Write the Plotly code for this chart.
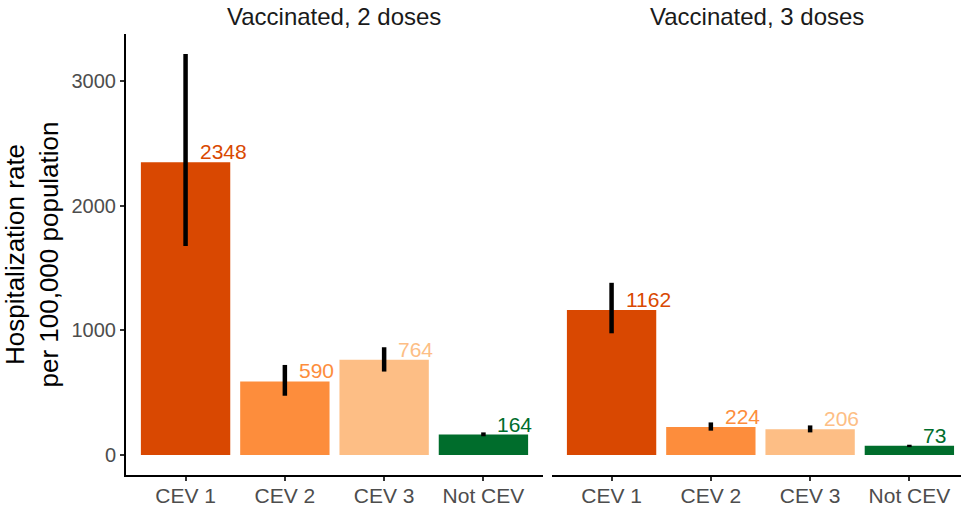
import plotly.graph_objects as go

categories = ["CEV 1", "CEV 2", "CEV 3", "Not CEV"]
colors = ["#D94801", "#FD8D3C", "#FDBE85", "#006D2C"]
panel_titles = ["Vaccinated, 2 doses", "Vaccinated, 3 doses"]

rate_2doses = [2348, 590, 764, 164]
upper_2doses = [3216, 722, 864, 181]
lower_2doses = [1677, 475, 669, 150]

rate_3doses = [1162, 224, 206, 73]
upper_3doses = [1381, 261, 237, 82]
lower_3doses = [976, 195, 181, 63]

y_ticks = [0, 1000, 2000, 3000]

FONT = "Liberation Sans, Arial, sans-serif"

fig = go.Figure()

panels = [
    (rate_2doses, upper_2doses, lower_2doses, "x", "y"),
    (rate_3doses, upper_3doses, lower_3doses, "x2", "y2"),
]

for vals, up, lo, xa, ya in panels:
    fig.add_trace(go.Bar(
        x=categories, y=vals, xaxis=xa, yaxis=ya,
        width=0.9,
        marker=dict(color=colors, line=dict(width=0)),
        error_y=dict(
            type="data", symmetric=False,
            array=[u - v for u, v in zip(up, vals)],
            arrayminus=[v - l for v, l in zip(vals, lo)],
            color="black", thickness=4.5, width=0,
        ),
        showlegend=False, hoverinfo="skip",
    ))
    for c, v, col in zip(categories, vals, colors):
        fig.add_annotation(
            x=c, y=v, xref=xa, yref=ya, text=str(v),
            xanchor="left", yanchor="bottom", xshift=12, yshift=-3,
            showarrow=False, font=dict(family=FONT, size=21, color=col),
        )

ymax = max(upper_2doses + upper_3doses)
yrange = [-0.05 * ymax, 1.05 * ymax]

axis_common = dict(
    showgrid=False, zeroline=False, showline=True, linecolor="black",
    linewidth=2, ticks="outside", ticklen=4, tickcolor="#333333", tickwidth=1.5,
    tickfont=dict(family=FONT, size=21, color="#4D4D4D"),
    type="category", categoryorder="array", categoryarray=categories,
    automargin=False, ticklabelstandoff=-3,
)

fig.update_layout(
    width=961, height=506,
    margin=dict(l=126, r=0, t=34, b=31),
    paper_bgcolor="white", plot_bgcolor="white",
    bargap=0.1,
    font=dict(family=FONT),
    xaxis=dict(domain=[0, 0.4994], range=[-0.6, 3.6], anchor="y", **axis_common),
    xaxis2=dict(domain=[0.5102, 1], range=[-0.6, 3.52], anchor="y2", **axis_common),
    yaxis=dict(
        range=yrange, tickvals=y_ticks, showgrid=False, zeroline=False,
        showline=True, linecolor="black", linewidth=2, ticks="outside",
        ticklen=4, tickcolor="#333333", tickwidth=1.5,
        tickfont=dict(family=FONT, size=20, color="#4D4D4D"),
        title=dict(text="Hospitalization rate<br>per 100,000 population",
                   font=dict(family=FONT, size=26, color="black"), standoff=6),
        anchor="x", automargin=False,
    ),
    yaxis2=dict(
        range=yrange, matches="y", showgrid=False, zeroline=False,
        showline=False, showticklabels=False, ticks="", anchor="x2",
        automargin=False,
    ),
)

for title, dom in zip(panel_titles, [[0, 0.4994], [0.5102, 1]]):
    fig.add_annotation(
        x=(dom[0] + dom[1]) / 2, y=1, xref="paper", yref="paper",
        xanchor="center", yanchor="bottom", yshift=2, text=title,
        showarrow=False, font=dict(family=FONT, size=24, color="#1A1A1A"),
    )

fig.write_html(
    "out.html",
    config={"displayModeBar": False},
    post_script="document.body.style.margin='0';document.body.style.overflow='hidden';",
)
